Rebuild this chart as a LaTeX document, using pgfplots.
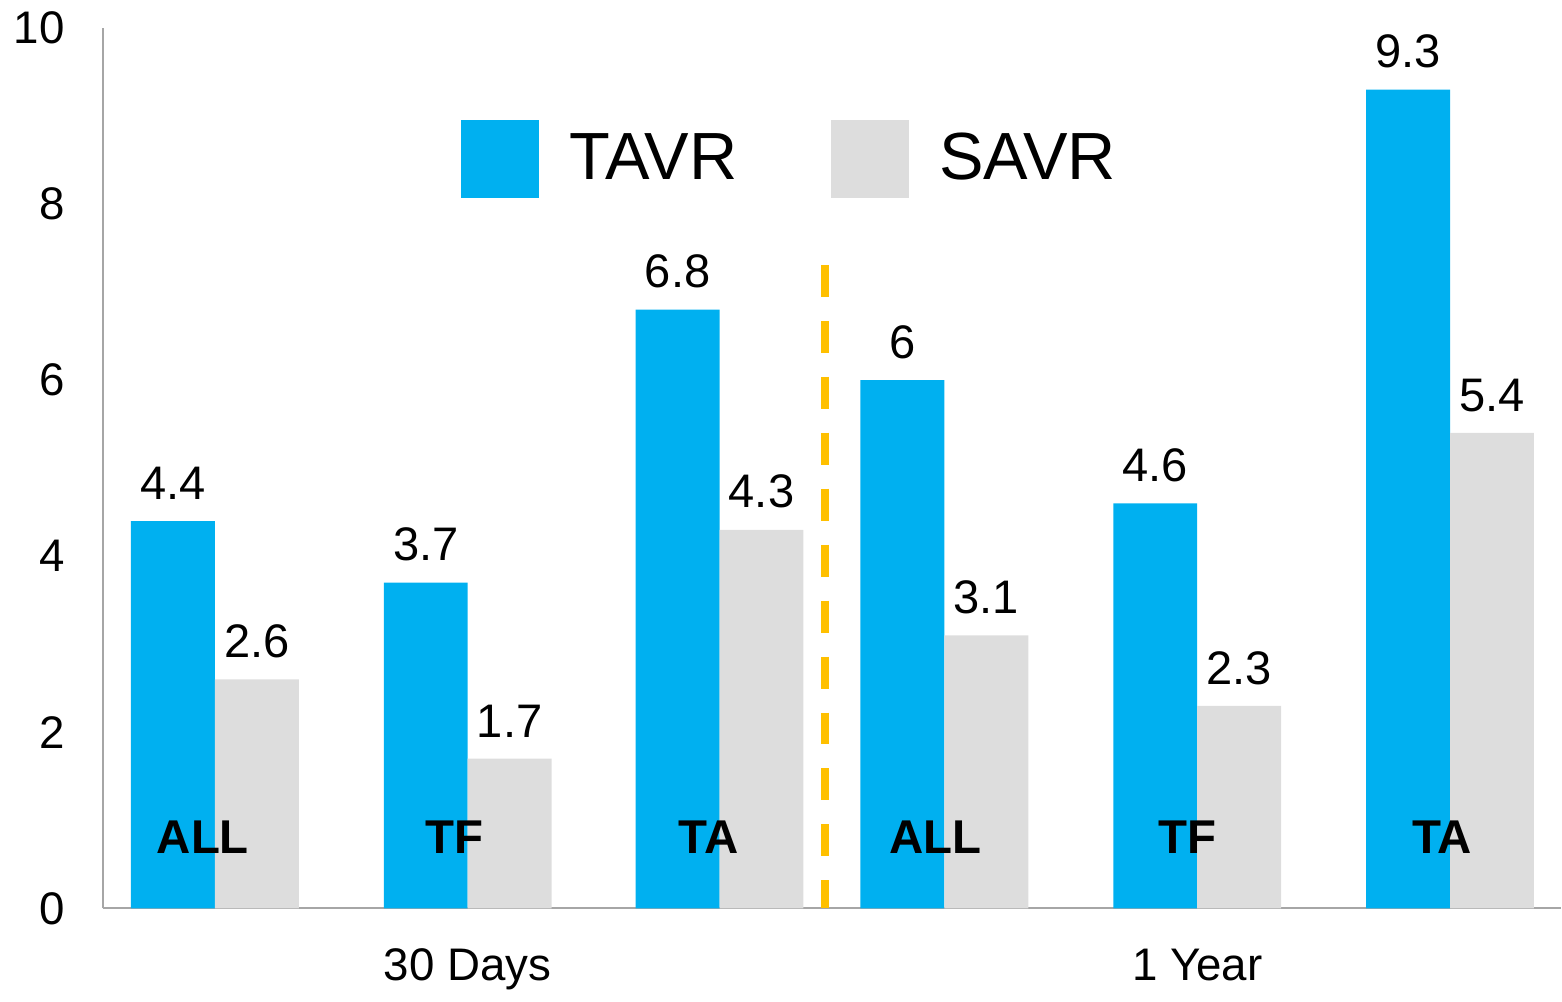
\documentclass[border=0pt]{standalone}
\usepackage{fontspec}
\setmainfont{Liberation Sans}
\usepackage{pgfplots}
\pgfplotsset{compat=1.18}
\definecolor{tavr}{HTML}{00B0F0}
\definecolor{savr}{HTML}{DDDDDD}
\definecolor{axgray}{HTML}{A6A6A6}
\definecolor{gold}{HTML}{FFC000}

\begin{document}
\begin{tikzpicture}
\begin{axis}[
  scale only axis,
  width=145.9mm, height=88.1mm,
  xmin=1.03, xmax=15.62, ymin=0, ymax=10,
  axis x line=bottom, axis y line=left,
  axis line style={-, axgray, line width=0.6pt},
  major tick length=0pt,
  ytick={0,2,...,10},
  xtick={4.68,11.98}, xticklabels={30 Days, 1 Year},
  ticklabel style={font=\fontsize{13}{15}\selectfont},
  /pgf/number format/assume math mode=true,
  yticklabel style={xshift=-2.6mm},
  xticklabel style={yshift=-2.8mm},
  ybar=0pt, bar width=0.84,
  nodes near coords,
  every node near coord/.append style={font=\fontsize{13.4}{15}\selectfont, black, yshift=0.9mm},
  clip=false,
  legend columns=2,
  legend style={at={(axis description cs:0.2454,0.8513)}, anchor=west,
    draw=none, fill=none, inner sep=0pt,
    font=\fontsize{19}{22}\selectfont,
    /tikz/every even column/.append style={column sep=8.7mm}},
  legend image code/.code={\fill[#1] (0,-3.9mm) rectangle (7.8mm,3.9mm); \path (10.1mm,0);},
]
\addplot[fill=tavr, draw=none, bar shift=-0.42] coordinates {(2.15,4.4) (4.68,3.7) (7.20,6.8) (9.45,6.0) (11.98,4.6) (14.51,9.3)};
\addlegendentry{TAVR}
\addplot[fill=savr, draw=none, bar shift=0.42] coordinates {(2.15,2.6) (4.68,1.7) (7.20,4.3) (9.45,3.1) (11.98,2.3) (14.51,5.4)};
\addlegendentry{SAVR}

% group labels inside bars
\node[font=\bfseries\fontsize{13.5}{15}\selectfont] at (axis cs:2.03,0.806) {ALL};
\node[font=\bfseries\fontsize{13.5}{15}\selectfont] at (axis cs:4.55,0.806) {TF};
\node[font=\bfseries\fontsize{13.5}{15}\selectfont] at (axis cs:7.09,0.806) {TA};
\node[font=\bfseries\fontsize{13.5}{15}\selectfont] at (axis cs:9.36,0.806) {ALL};
\node[font=\bfseries\fontsize{13.5}{15}\selectfont] at (axis cs:11.88,0.806) {TF};
\node[font=\bfseries\fontsize{13.5}{15}\selectfont] at (axis cs:14.43,0.806) {TA};

% separator
\draw[gold, line width=0.8mm, dash pattern=on 3.2mm off 2.4mm] (axis cs:8.26,7.31) -- (axis cs:8.26,0);

\path (axis description cs:-0.0706,-0.0953) rectangle (axis description cs:1,1.0318);
\end{axis}
\end{tikzpicture}
\end{document}
